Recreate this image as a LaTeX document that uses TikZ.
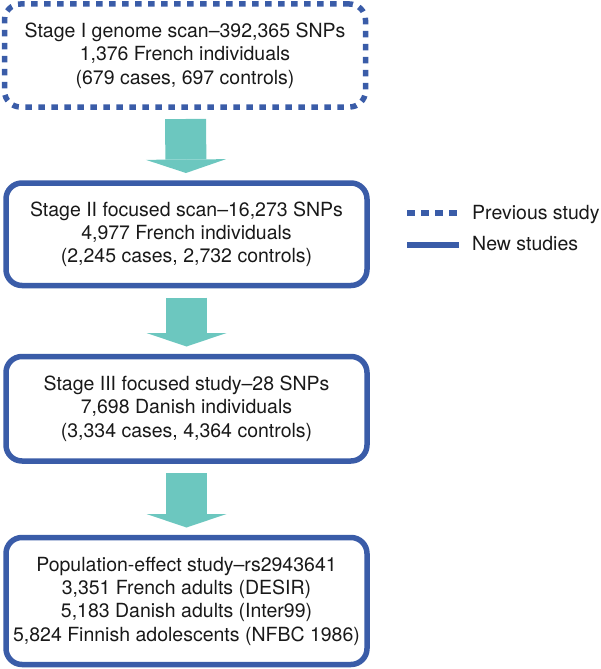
\documentclass[tikz,border=0pt]{standalone}
\usepackage{fontspec}
\setmainfont{TeX Gyre Heros}
\usetikzlibrary{arrows.meta}
\definecolor{stageblue}{RGB}{58,92,168}
\definecolor{arrowteal}{RGB}{108,199,191}

\begin{document}
\begin{tikzpicture}[x=1pt, y=-1pt,
		stagebox/.style={draw=stageblue, line width=5.5pt, rounded corners=16pt, minimum width=361pt, inner sep=0pt, outer sep=0pt, align=center, text=black!90, font=\fontsize{19.5}{23.3}\selectfont},
		previous/.style={dash pattern=on 6.5pt off 6.5pt},
		flow/.style={draw=arrowteal, line width=41pt, shorten <=12pt, shorten >=10pt, -{Triangle[width=80pt, length=13.5pt, line width=0pt]}},
		legendtext/.style={anchor=base west, inner sep=0pt, text=black!90, font=\fontsize{19.5}{23.3}\selectfont}]
		\useasboundingbox (0, 0) rectangle (600, 669);
		% the four stages
		\node[stagebox, previous, minimum height=103pt] (stageI) at (185, 55.5) {Stage I genome scan--392,365 SNPs\\1,376 French individuals\\(679 cases, 697 controls)};
		\node[stagebox, minimum height=102.5pt] (stageII) at (186.5, 234.25) {Stage II focused scan--16,273 SNPs\\4,977 French individuals\\(2,245 cases, 2,732 controls)};
		\node[stagebox, minimum height=104.5pt] (stageIII) at (186.5, 408.75) {Stage III focused study--28 SNPs\\7,698 Danish individuals\\(3,334 cases, 4,364 controls)};
		\node[stagebox, minimum height=127pt] (popeffect) at (186.5, 601) {Population-effect study--rs2943641\\3,351 French adults (DESIR)\\5,183 Danish adults (Inter99)\\5,824 Finnish adolescents (NFBC 1986)};
		\draw[flow] (stageI) to (stageII);
		\draw[flow] (stageII) to (stageIII);
		\draw[flow] (stageIII) to (popeffect);
		% legend
		\node[legendtext] (prevlabel) at (472, 219.5) {Previous study};
		\node[legendtext] (newlabel) at (472, 250.5) {New studies};
		\coordinate (prevstart) at (407, 213);
		\coordinate (newstart) at (407, 245);
		\draw[stageblue, line width=5.5pt, dash pattern=on 8pt off 6pt] (prevstart) to ++(53, 0);
		\draw[stageblue, line width=5.5pt] (newstart) to ++(52, 0);
	\end{tikzpicture}
\end{document}
